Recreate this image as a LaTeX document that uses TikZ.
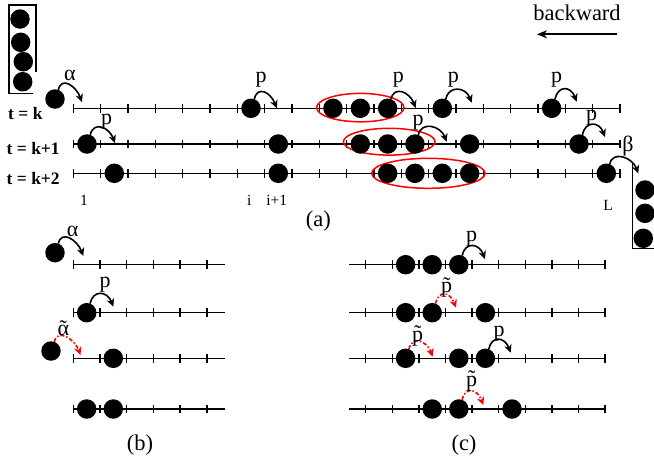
\documentclass[tikz,border=0pt]{standalone}
\usepackage{fontspec}
\setmainfont{Liberation Serif}
\usetikzlibrary{arrows.meta}
\newcommand\hopx[3][hop]{\draw[#1] (#2.70) .. controls +(3,14) and +(-6,16) .. (#3);}
\begin{document}
\begin{tikzpicture}[x=1pt,y=1pt,
  ptc/.style={circle,fill=black,minimum size=19.5pt,inner sep=0pt,outer sep=0pt},
  lat/.style={line width=1.4pt},
  hop/.style={line width=1.6pt,-{Stealth[length=8pt,width=7.5pt,inset=2.5pt]}},
  rhop/.style={hop,red,dash pattern=on 4pt off 2pt on 1.5pt off 2pt},
  lbl/.style={inner sep=0pt,font=\fontsize{22}{24}\selectfont},
  poslab/.style={inner sep=0pt,font=\fontsize{15.5}{17}\selectfont},
  tlab/.style={inner sep=0pt,anchor=west,font=\fontsize{17.5}{19}\selectfont\bfseries},
  ring/.style={draw=red,line width=1.5pt},
  caplab/.style={inner sep=0pt,font=\fontsize{22.5}{24}\selectfont}
]
\useasboundingbox (0,0) rectangle (654,-464);

% ---------------- panel (a) ----------------
\foreach \yy in {108.3,144,173.3}{
  \draw[lat] (73.3,-\yy) -- (620,-\yy);
  \foreach \n in {0,...,20}
    \draw[lat] ({73.3+\n*27.335},-\yy+4.3) -- ++(0,-8.6);
}
\node[tlab] (tk)  at (8,-114)   {t = k};
\node[tlab] (tk1) at (6.5,-148.3) {t = k+1};
\node[tlab] (tk2) at (6.5,-178.5) {t = k+2};

% red rings
\draw[ring] (360.3,-107.6) ellipse (43.7 and 14.2);
\draw[ring] (389.2,-141.7) ellipse (45.8 and 13.4);
\draw[ring] (428.3,-173.3) ellipse (56.7 and 15);

% particles
\foreach \c in {7,10,11,12,14,18}
  \node[ptc] (K\c) at ({73.3+(\c-0.5)*27.335},-108.3) {};
\foreach \c in {1,8,11,12,13,15,19}
  \node[ptc] (L\c) at ({73.3+(\c-0.5)*27.335},-144) {};
\foreach \c in {2,8,12,13,14,15,20}
  \node[ptc] (M\c) at ({73.3+(\c-0.5)*27.335},-173.3) {};

% left reservoir
\draw[lat] (33.3,-93.3) -- (9,-93.3) -- (9,-5) -- (36,-5) -- (36,-71.7);
\node[ptc] (R1) at (20,-19) {};
\node[ptc] (R2) at (20.7,-42.3) {};
\node[ptc] (R3) at (23.3,-61.7) {};
\node[ptc] (R4) at (22.7,-81.7) {};
\node[ptc] (A0) at (55,-99) {};

% right reservoir
\draw[lat] (632.7,-164) -- (632.7,-248.3) -- (656,-248.3);
\node[ptc] (S1) at (645,-190) {};
\node[ptc] (S2) at (645,-213.3) {};
\node[ptc] (S3) at (643.3,-238.3) {};

% hops (a)
\coordinate (eA0) at (82,-102);
\coordinate (eK7) at (276.7,-108.3);
\coordinate (eK12) at (415.7,-108);
\coordinate (eK14) at (471.7,-102.7);
\coordinate (eK18) at (576.7,-101.7);
\coordinate (eL1) at (115,-143);
\coordinate (eL13) at (446.7,-141.7);
\coordinate (eL19) at (605,-137);
\coordinate (eM20) at (638.3,-173.3);
\hopx{A0}{eA0}
\hopx{K7}{eK7}
\hopx{K12}{eK12}
\hopx{K14}{eK14}
\hopx{K18}{eK18}
\hopx{L1}{eL1}
\hopx{L13}{eL13}
\hopx{L19}{eL19}
\hopx{M20}{eM20}
\node[lbl] (lA0) at (70,-75) {α};
\node[lbl] (lK7) at (261,-80) {p};
\node[lbl] (lK12) at (398.3,-80) {p};
\node[lbl] (lK14) at (453.3,-80) {p};
\node[lbl] (lK18) at (556.7,-80) {p};
\node[lbl] (lL1) at (106.7,-121.7) {p};
\node[lbl] (lL13) at (418,-123) {p};
\node[lbl] (lL19) at (591.7,-118) {p};
\node[lbl] (lM20) at (628,-146) {β};

% positions
\node[poslab] (n1) at (84,-200) {1};
\node[poslab] (ni) at (249.3,-200) {i};
\node[poslab] (ni1) at (276.7,-200) {i+1};
\node[poslab] (nL) at (608,-205) {L};
\node[caplab] (capa) at (318.3,-221) {(a)};

% backward
\node[caplab] (bw) at (577,-13.3) {backward};
\coordinate (bwR) at (617,-34.3);
\coordinate (bwL) at (537,-34.3);
\draw[line width=1.7pt,-{Stealth[length=10pt,width=8pt,inset=3pt]}] (bwR) -- (bwL);

% ---------------- panel (b) ----------------
\foreach \yy in {264.7,312.7,358.3,409}{
  \draw[lat] (73.3,-\yy) -- (225,-\yy);
  \foreach \n in {0,...,5}
    \draw[lat] ({73.3+\n*26.7},-\yy+4.3) -- ++(0,-8.6);
}
\node[ptc] (b1o) at (55,-252.7) {};
\node[ptc] (b2a) at (86.7,-312.7) {};
\node[ptc] (b3o) at (51,-351) {};
\node[ptc] (b3b) at (113.3,-358.3) {};
\node[ptc] (b4a) at (86.7,-409) {};
\node[ptc] (b4b) at (113.3,-409) {};
\coordinate (eb1) at (83.3,-256);
\coordinate (eb2) at (113.3,-306.7);
\coordinate (eb3) at (80.5,-355);
\hopx{b1o}{eb1}
\hopx{b2a}{eb2}
\hopx[rhop]{b3o}{eb3}
\node[lbl] (lb1) at (72.7,-231.7) {α};
\node[lbl] (lb2) at (105,-285) {p};
\node[lbl] (lb3) at (63.3,-328) {\accent"02DC α};
\node[caplab] (capb) at (140,-445) {(b)};

% ---------------- panel (c) ----------------
\foreach \yy in {264.7,312.7,358.3,409}{
  \draw[lat] (349.3,-\yy) -- (605.1,-\yy);
  \foreach \n in {0,...,9}
    \draw[lat] ({365.7+\n*26.6},-\yy+4.3) -- ++(0,-8.6);
}
\foreach \m in {2,3,4}
  \node[ptc] (c1-\m) at ({365.7+(\m-0.5)*26.6},-264.7) {};
\foreach \m in {2,3,5}
  \node[ptc] (c2-\m) at ({365.7+(\m-0.5)*26.6},-312.7) {};
\foreach \m in {2,4,5}
  \node[ptc] (c3-\m) at ({365.7+(\m-0.5)*26.6},-358.3) {};
\foreach \m in {3,4,6}
  \node[ptc] (c4-\m) at ({365.7+(\m-0.5)*26.6},-409) {};
\coordinate (ec1) at (485,-259);
\coordinate (ec2) at (456,-307.7);
\coordinate (ec3a) at (432.7,-356.7);
\coordinate (ec3b) at (510.7,-352.7);
\coordinate (ec4) at (483.3,-405);
\hopx{c1-4}{ec1}
\hopx[rhop]{c2-3}{ec2}
\hopx[rhop]{c3-2}{ec3a}
\hopx{c3-5}{ec3b}
\hopx[rhop]{c4-4}{ec4}
\node[lbl] (lc1) at (471.7,-238.3) {p};
\node[lbl] (lc2) at (446.7,-287.5) {\~{p}};
\node[lbl] (lc3a) at (417.7,-336) {\~{p}};
\node[lbl] (lc3b) at (499,-334) {p};
\node[lbl] (lc4) at (471.7,-381) {\~{p}};
\node[caplab] (capc) at (464,-445) {(c)};
\end{tikzpicture}
\end{document}
